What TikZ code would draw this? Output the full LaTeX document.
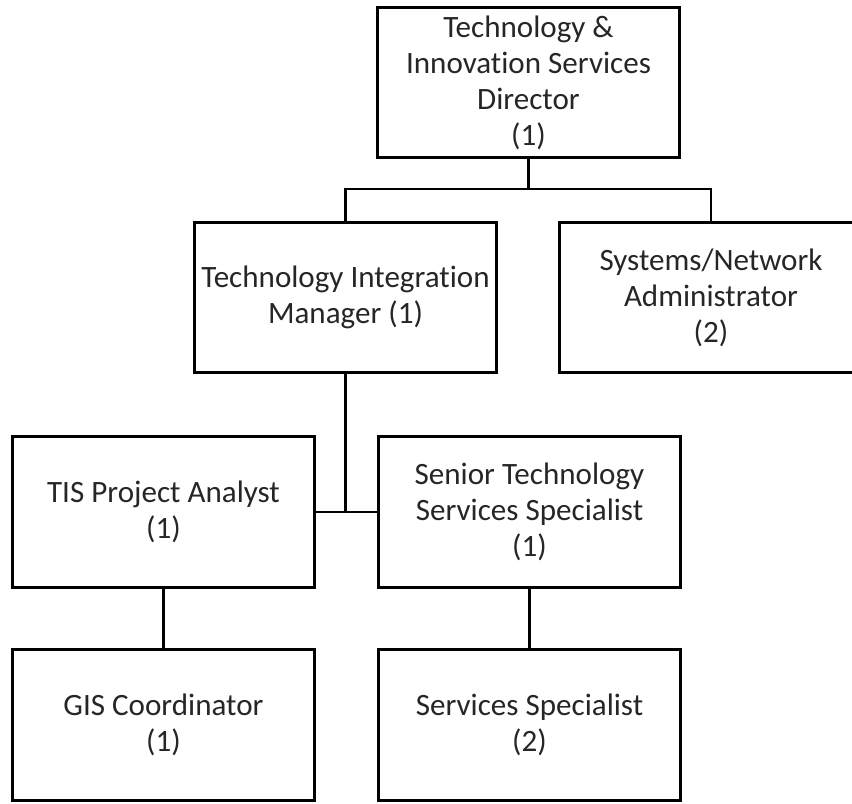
\documentclass[tikz,border=0pt]{standalone}
\usepackage{fontspec}
\setmainfont{Carlito}[Ligatures=NoCommon]

\begin{document}
\begin{tikzpicture}[x=0.75pt, y=-0.75pt,
				stelle/.style={draw, line width=2.2pt, minimum width=227pt, minimum height=113pt, align=center, inner sep=1pt},
				linie/.style={line width=1.6pt},
				font=\fontsize{23.3}{27}\selectfont, text=black!85]
				% Bildbereich
				\useasboundingbox (0,0) rectangle (852,803);
				% Stellen zeichnen
				\node[stelle] (dir) at (528.5,82.5) {Technology \&\\Innovation Services\\Director\\(1)};
				\node[stelle] (mgr) at (345.5,297.5) {Technology Integration\\Manager (1)};
				\node[stelle] (sys) at (711,297.5) {Systems/Network\\Administrator\\(2)};
				\node[stelle] (tis) at (163.5,512) {TIS Project Analyst\\(1)};
				\node[stelle] (sen) at (529.5,512) {Senior Technology\\Services Specialist\\(1)};
				\node[stelle] (gis) at (163.5,725) {GIS Coordinator\\(1)};
				\node[stelle] (svc) at (529.5,725) {Services Specialist\\(2)};
				% Verbindungen zeichnen
				\draw[linie] (dir.south) -- ++(0,30) coordinate (knoten);
				\draw[linie] (mgr.north) |- (knoten) -| (sys.north);
				\draw[linie] (tis.east) -- (sen.west);
				\draw[linie] (mgr.south) -- (mgr.south |- tis.east);
				\draw[linie] (tis.south) -- (gis.north);
				\draw[linie] (sen.south) -- (svc.north);
			\end{tikzpicture}
\end{document}
